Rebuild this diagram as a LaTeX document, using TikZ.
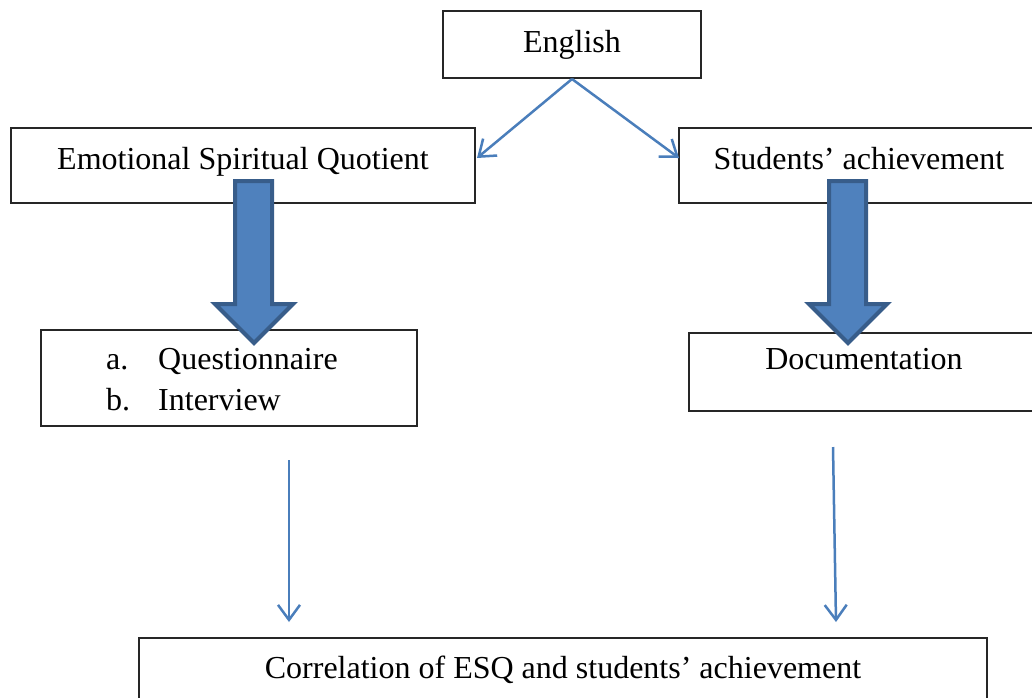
\documentclass[tikz,border=0pt]{standalone}
\usepackage{fontspec}
\setmainfont{Liberation Serif}
\usetikzlibrary{arrows.meta}
\definecolor{lineblue}{HTML}{4A7EBB}
\definecolor{fillblue}{HTML}{4F81BD}
\definecolor{edgeblue}{HTML}{385D8A}
\begin{document}
\begin{tikzpicture}[x=1pt,y=-1pt,
  box/.style={draw=black!85,line width=1.5pt},
  lbl/.style={anchor=base,inner sep=0pt,font=\fontsize{32}{38}\selectfont},
  thin/.style={draw=lineblue,line width=2.5pt,-{Straight Barb[length=15pt,width=22pt,line width=2.5pt]}},
  blockarrow/.style={fill=fillblue,draw=edgeblue,line width=4pt,line join=miter}]
\useasboundingbox (0,0) rectangle (1032,697);
\clip (0,0) rectangle (1032,697);
\fill[white] (0,0) rectangle (1032,697);
% boxes
\draw[box] (443,11) rectangle (701,78);
\node[lbl] (english) at (572,52) {English};
\draw[box] (11,128) rectangle (475,203);
\node[lbl] (esq) at (243,169) {Emotional Spiritual Quotient};
\draw[box] (679,128) rectangle (1045,203);
\node[lbl] (sa) at (859,169) {Students’ achievement};
\draw[box] (41,330) rectangle (417,426);
\node[lbl,anchor=base west] (qa) at (106,369) {a.};
\node[lbl,anchor=base west] (qt) at (158,369) {Questionnaire};
\node[lbl,anchor=base west] (ib) at (106,410) {b.};
\node[lbl,anchor=base west] (it) at (158,410) {Interview};
\draw[box] (689,333) rectangle (1045,411);
\node[lbl] (doc) at (864,369) {Documentation};
\draw[box] (139,638) rectangle (987,710);
\node[lbl] (corr) at (563,678) {Correlation of ESQ and students’ achievement};
% connector coordinates
\coordinate (eb) at (572,79);
\coordinate (esqr) at (477,158);
\coordinate (sal) at (679,158);
\coordinate (qs) at (289,460);
\coordinate (qe) at (289,622);
\coordinate (ds) at (833,447);
\coordinate (de) at (836,622);
\draw[thin] (eb) -- (esqr);
\draw[thin] (eb) -- (sal);
\draw[thin] (qs) -- (qe);
\draw[thin] (ds) -- (de);
% block arrows
\draw[blockarrow] (235,181) -- (272,181) -- (272,304) -- (293,304) -- (254,343) -- (215,304) -- (235,304) -- cycle;
\draw[blockarrow] (829,181) -- (866,181) -- (866,304) -- (887,304) -- (848,343) -- (809,304) -- (829,304) -- cycle;
\end{tikzpicture}
\end{document}
